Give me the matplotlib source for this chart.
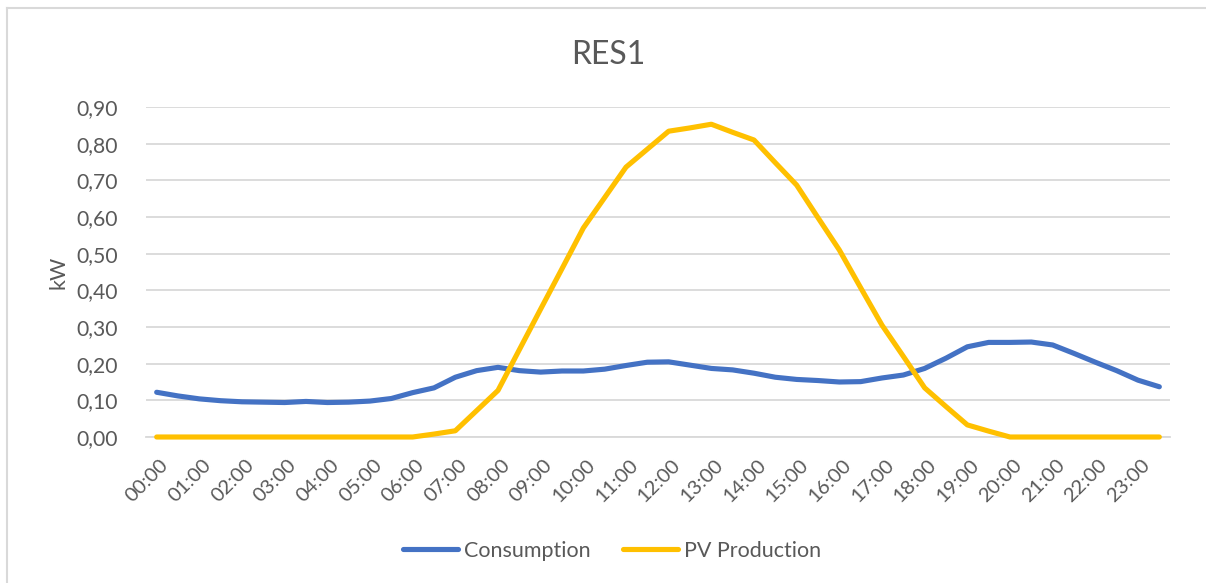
import matplotlib.pyplot as plt
import matplotlib.transforms as mtransforms
from matplotlib.lines import Line2D

# half-hourly readings, 00:00 .. 23:30
times = [f"{h:02d}:{m:02d}" for h in range(24) for m in (0, 30)]

consumption = [
    0.122, 0.112, 0.104, 0.099, 0.096, 0.095, 0.094, 0.097, 0.094, 0.095,
    0.098, 0.105, 0.121, 0.134, 0.163, 0.181, 0.190, 0.181, 0.177, 0.180,
    0.180, 0.185, 0.195, 0.204, 0.205, 0.196, 0.187, 0.183, 0.174, 0.163,
    0.157, 0.154, 0.150, 0.151, 0.161, 0.169, 0.187, 0.215, 0.246, 0.258,
    0.258, 0.259, 0.251, 0.228, 0.204, 0.181, 0.155, 0.137,
]

pv_production = [
    0.0, 0.0, 0.0, 0.0, 0.0, 0.0, 0.0, 0.0, 0.0, 0.0,
    0.0, 0.0, 0.0, 0.008, 0.017, 0.072, 0.127, 0.238, 0.349, 0.459,
    0.570, 0.653, 0.736, 0.785, 0.834, 0.843, 0.853, 0.831, 0.810, 0.748,
    0.687, 0.598, 0.510, 0.407, 0.305, 0.220, 0.134, 0.083, 0.033, 0.016,
    0.0, 0.0, 0.0, 0.0, 0.0, 0.0, 0.0, 0.0,
]

y_ticks = [0.0, 0.1, 0.2, 0.3, 0.4, 0.5, 0.6, 0.7, 0.8, 0.9]

text_color = "#595959"
grid_color = "#D9D9D9"
plt.rcParams["font.family"] = ["Lato", "DejaVu Sans"]

fig = plt.figure(figsize=(12.06, 5.83), dpi=100)
ax = fig.add_axes([146 / 1206, 146 / 583, 1024 / 1206, 330 / 583])

x = list(range(len(times)))
ax.plot(x, consumption, color="#4472C4", lw=3.7, solid_capstyle="round",
        solid_joinstyle="round", label="Consumption", clip_on=False, zorder=3)
ax.plot(x, pv_production, color="#FFC000", lw=3.7, solid_capstyle="round",
        solid_joinstyle="round", label="PV Production", clip_on=False, zorder=3)

ax.set_xlim(-0.5, len(times) - 0.5)
ax.set_ylim(0, 0.9)
ax.set_yticks(y_ticks)
ax.set_yticklabels([f"{v:.2f}".replace(".", ",") for v in y_ticks])
ax.yaxis.grid(True, color=grid_color, lw=1.3)
ax.set_axisbelow(True)
for s in ["top", "right", "left"]:
    ax.spines[s].set_visible(False)
ax.spines["bottom"].set_color(grid_color)
ax.spines["bottom"].set_linewidth(1.3)

ax.set_xticks(x[::2])
ax.set_xticklabels(times[::2], rotation=45, ha="right", va="top",
                   rotation_mode="anchor")
ax.tick_params(axis="both", length=0, labelsize=14.6, labelcolor=text_color)
ax.tick_params(axis="x", pad=14)
ax.tick_params(axis="y", pad=20, labelsize=15.2)
shift = mtransforms.ScaledTranslation(3 / 100, 0, fig.dpi_scale_trans)
for lbl in ax.get_xticklabels():
    lbl.set_transform(lbl.get_transform() + shift)

ax.set_ylabel("kW", fontsize=15.5, color=text_color, labelpad=6)
fig.text(0.504, 0.906, "RES1", ha="center", va="center", fontsize=23,
         color=text_color)

leg = fig.legend(loc="center", bbox_to_anchor=(0.5075, 0.055), ncol=2,
                 frameon=False, fontsize=15.5, handlelength=2.55,
                 columnspacing=1.5, handletextpad=0.28)
for t in leg.get_texts():
    t.set_color(text_color)

# chart area border (top and left edges visible)
fig.add_artist(Line2D([6.5 / 1206, 1], [1 - 8 / 583] * 2, color=grid_color, lw=1.5))
fig.add_artist(Line2D([6.5 / 1206] * 2, [0, 1 - 8 / 583], color=grid_color, lw=1.5))

fig.savefig("out.png", dpi=100, facecolor="white")
